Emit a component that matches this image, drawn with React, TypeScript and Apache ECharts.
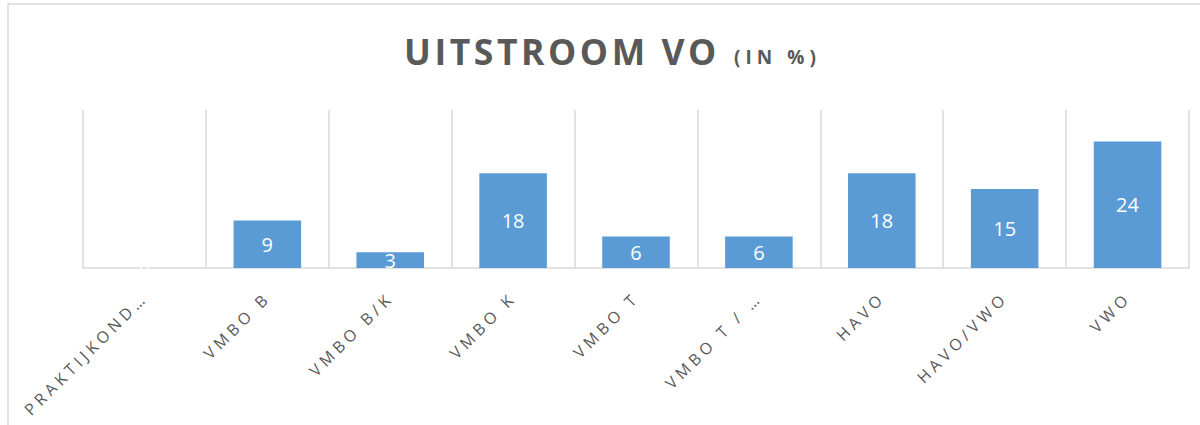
import React, { useEffect, useRef } from "react";
import * as echarts from "echarts";

const categories = [
  "PRAKTIJKOND…",
  "VMBO B",
  "VMBO B/K",
  "VMBO K",
  "VMBO T",
  "VMBO T / …",
  "HAVO",
  "HAVO/VWO",
  "VWO",
];
const values = [0, 9, 3, 18, 6, 6, 18, 15, 24];
const titleMain = "UITSTROOM VO";
const titleSub = "(IN %)";

const spaced = (s: string, sep: string) => s.split("").join(sep);

export default function App() {
  const ref = useRef<HTMLDivElement>(null);
  useEffect(() => {
    if (!ref.current) return;
    const chart = echarts.init(ref.current, undefined, { renderer: "svg" });
    chart.setOption({
      animation: false,
      backgroundColor: "#ffffff",
      graphic: [
        {
          type: "rect",
          z: -10,
          shape: { x: 8, y: 4, width: 1300, height: 500 },
          style: { fill: "none", stroke: "#D9D9D9", lineWidth: 1.5 },
        },
        {
          type: "text",
          x: 404,
          y: 51,
          style: {
            text: spaced(titleMain, "\u200A"),
            fill: "#595959",
            font: "bold 35.5px 'Open Sans'",
            align: "left",
            verticalAlign: "middle",
          },
        },
        {
          type: "text",
          x: 734,
          y: 57,
          style: {
            text: spaced(titleSub, "\u2009\u200A"),
            fill: "#595959",
            font: "bold 19px 'Open Sans'",
            align: "left",
            verticalAlign: "middle",
          },
        },
      ],
      grid: { left: 83, right: 11, top: 110, bottom: 157 },
      xAxis: {
        type: "category",
        data: categories,
        axisLine: { show: true, lineStyle: { color: "#D9D9D9", width: 1.5 } },
        axisTick: { show: false },
        splitLine: { show: true, lineStyle: { color: "#D9D9D9", width: 1.5 } },
        axisLabel: {
          rotate: 45,
          margin: 27,
          interval: 0,
          color: "#595959",
          fontFamily: "Open Sans",
          fontSize: 16,
          padding: [0, 4, 0, 0],
          formatter: (v: string) => spaced(v, "\u2009\u200A"),
        },
      },
      yAxis: {
        type: "value",
        min: 0,
        max: 30,
        show: false,
        splitLine: { show: false },
      },
      series: [
        {
          type: "bar",
          data: values,
          barWidth: "55%",
          itemStyle: { color: "#5B9BD5" },
          label: {
            show: true,
            position: "inside",
            color: "#ffffff",
            fontFamily: "Open Sans",
            fontSize: 20,
          },
        },
      ],
    });
    return () => chart.dispose();
  }, []);
  return (
    <div
      ref={ref}
      style={{ position: "fixed", left: 0, top: 0, width: 1200, height: 425 }}
    />
  );
}
